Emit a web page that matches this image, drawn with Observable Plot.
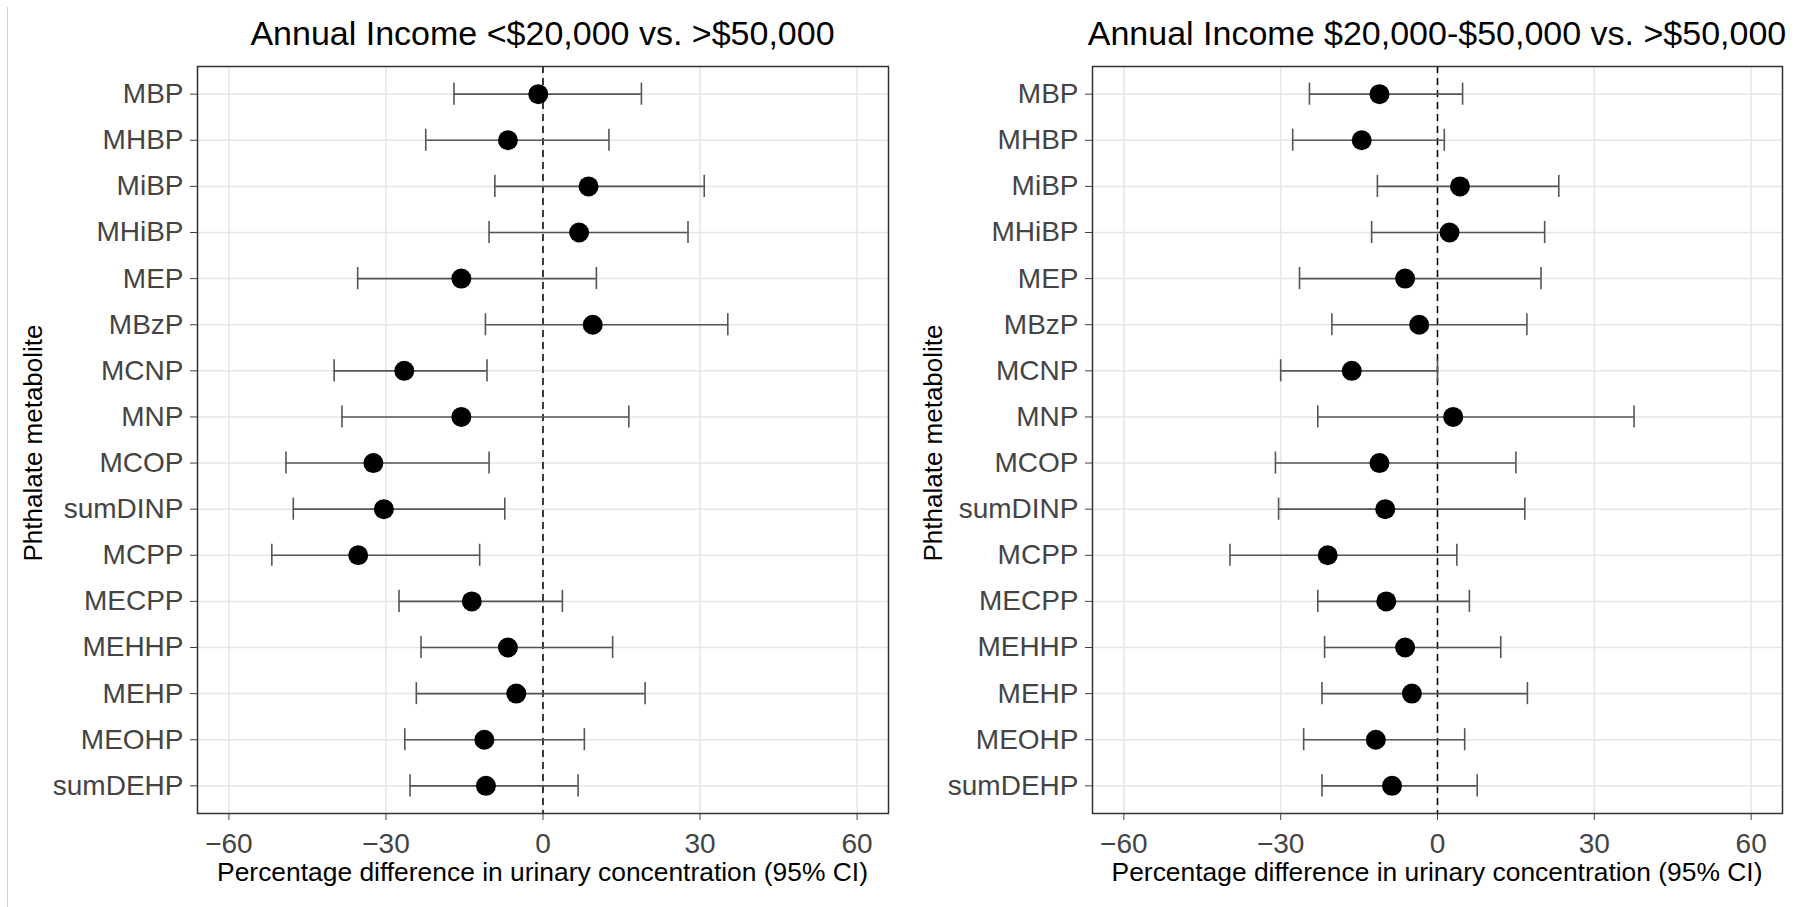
<!DOCTYPE html>
<html><head><meta charset="utf-8">
<script src="https://cdn.jsdelivr.net/npm/d3@7"></script>
<script src="https://cdn.jsdelivr.net/npm/@observablehq/plot@0.6"></script>
<style>
body{margin:0;background:#fff;}
#wrap{position:relative;width:1800px;height:907px;overflow:hidden;background:#fff;font-family:"Liberation Sans",Arial,sans-serif;}
.panel{position:absolute;top:0;}
.t{position:absolute;white-space:nowrap;color:#000;}
</style></head><body><div id="wrap"></div>
<script>
const metabolites = ["MBP","MHBP","MiBP","MHiBP","MEP","MBzP","MCNP","MNP","MCOP","sumDINP","MCPP","MECPP","MEHHP","MEHP","MEOHP","sumDEHP"];
// Panel 1: <$20,000 vs >$50,000
const est1 = [-0.9,-6.7,8.7,6.9,-15.6,9.5,-26.5,-15.6,-32.4,-30.4,-35.3,-13.6,-6.7,-5.1,-11.2,-10.9];
const lo1  = [-17.0,-22.4,-9.2,-10.3,-35.4,-11.0,-39.9,-38.4,-49.1,-47.7,-51.8,-27.5,-23.3,-24.2,-26.4,-25.4];
const hi1  = [18.8,12.6,30.8,27.7,10.2,35.3,-10.7,16.4,-10.3,-7.3,-12.1,3.7,13.3,19.5,7.9,6.7];
// Panel 2: $20,000-$50,000 vs >$50,000
const est2 = [-11.1,-14.5,4.3,2.3,-6.2,-3.5,-16.4,3.0,-11.1,-10.0,-21.0,-9.8,-6.2,-4.9,-11.8,-8.7];
const lo2  = [-24.5,-27.7,-11.5,-12.6,-26.4,-20.2,-30.0,-22.9,-31.0,-30.4,-39.7,-22.9,-21.6,-22.1,-25.6,-22.1];
const hi2  = [4.8,1.3,23.2,20.5,19.8,17.1,0.0,37.6,15.0,16.7,3.7,6.1,12.1,17.2,5.2,7.6];
const xTicks = [-60,-30,0,30,60];
const titles = ["Annual Income <$20,000 vs. >$50,000","Annual Income $20,000-$50,000 vs. >$50,000"];
const xTitle = "Percentage difference in urinary concentration (95% CI)";
const yTitle = "Phthalate metabolite";

const wrap = document.getElementById("wrap");
const FONT = "'Liberation Sans', Arial, sans-serif";

function panel(est, lo, hi, left, mL, mR, title) {
  const rows = metabolites.map((m, i) => ({m, est: est[i], lo: lo[i], hi: hi[i]}));
  const errStyle = {stroke: "#555", strokeWidth: 1.6};
  const capInset = 12;
  const chart = Plot.plot({
    width: 900, height: 907,
    marginTop: 66, marginBottom: 94, marginLeft: mL, marginRight: mR,
    style: {fontFamily: FONT, background: "transparent", overflow: "visible"},
    x: {domain: [-66, 66]},
    y: {type: "band", domain: metabolites, paddingInner: 0, paddingOuter: 0.1, round: false},
    marks: [
      Plot.gridX({ticks: xTicks, stroke: "#e6e6e6", strokeOpacity: 1, strokeWidth: 1.5}),
      Plot.gridY({stroke: "#e6e6e6", strokeOpacity: 1, strokeWidth: 1.5}),
      Plot.ruleX([0], {stroke: "#000", strokeWidth: 1.5, strokeDasharray: "7,5"}),
      Plot.ruleY(rows, {y: "m", x1: "lo", x2: "hi", ...errStyle}),
      Plot.tickX(rows, {y: "m", x: "lo", insetTop: capInset, insetBottom: capInset, ...errStyle}),
      Plot.tickX(rows, {y: "m", x: "hi", insetTop: capInset, insetBottom: capInset, ...errStyle}),
      Plot.dot(rows, {y: "m", x: "est", r: 10, fill: "#000", stroke: "none"}),
      Plot.axisY({tickSize: 7, tickPadding: 7, fontSize: 28, color: "#444", label: null}),
      Plot.axisX({ticks: xTicks, tickSize: 7, tickPadding: 13, fontSize: 28, color: "#444", label: null}),
      Plot.frame({stroke: "#333", strokeWidth: 1.5})
    ]
  });
  chart.classList.add("panel");
  chart.style.left = left + "px";
  wrap.appendChild(chart);
  const cx = left + mL + (900 - mL - mR) / 2;
  const t = document.createElement("div");
  t.className = "t"; t.textContent = title;
  t.style.cssText += `font-size:34px;line-height:34px;left:${cx}px;top:16px;transform:translateX(-50%);`;
  wrap.appendChild(t);
  const xt = document.createElement("div");
  xt.className = "t"; xt.textContent = xTitle;
  xt.style.cssText += `font-size:26.4px;line-height:26px;left:${cx}px;top:859px;transform:translateX(-50%);`;
  wrap.appendChild(xt);
  const yt = document.createElement("div");
  yt.className = "t"; yt.textContent = yTitle;
  yt.style.cssText += `font-size:26px;line-height:26px;left:${left + 33}px;top:443px;transform:translate(-50%,-50%) rotate(-90deg);`;
  wrap.appendChild(yt);
}

panel(est1, lo1, hi1, 0, 197, 12, titles[0]);
panel(est2, lo2, hi2, 900, 192, 18, titles[1]);

const edge = document.createElement("div");
edge.style.cssText = "position:absolute;left:7px;top:7px;width:1px;height:900px;background:#d0d0d0;";
wrap.appendChild(edge);
</script></body></html>
